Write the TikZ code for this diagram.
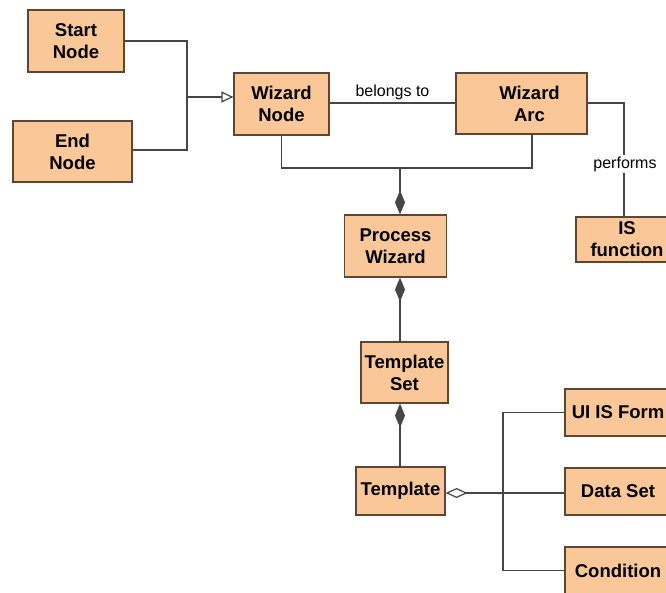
\documentclass[tikz,border=0pt]{standalone}
\usepackage{fontspec}
\setmainfont{Liberation Sans}
\usetikzlibrary{arrows.meta,positioning}
\definecolor{boxfill}{RGB}{250,200,152}
\definecolor{boxline}{RGB}{95,70,50}
\definecolor{wire}{RGB}{70,70,70}
\begin{document}
\begin{tikzpicture}[x=1pt,y=-1pt,
  cls/.style={draw=boxline, line width=1.2pt, fill=boxfill, inner sep=0pt,
    align=center, font=\bfseries\fontsize{18.5}{22}\selectfont},
  wirestyle/.style={draw=wire, line width=1.2pt},
  lbl/.style={font=\fontsize{16}{19}\selectfont, inner sep=1pt, fill=white},
  comp/.style={{Diamond[length=24pt,width=10pt,fill=wire]}-},
  aggr/.style={{Diamond[open,length=22pt,width=10pt,fill=white]}-},
  gen/.style={-{Triangle[open,length=12pt,width=11pt,fill=white]}}]
  \fill[white] (0,0) rectangle (666,592);
  \clip (0,0) rectangle (666,592);

  % class boxes (centre, width, height in px)
  \node[cls, minimum width=96, minimum height=62]  (sn)  at (76,41)    {Start\\Node};
  \node[cls, minimum width=119, minimum height=61] (en)  at (72.5,151.5) {End\\Node};
  \node[cls, minimum width=95, minimum height=62]  (wn)  at (281.5,104) {Wizard\\Node};
  \node[cls, minimum width=131, minimum height=61] (wa)  at (521.5,103.5) {\hspace*{16pt}Wizard\\\hspace*{16pt}Arc};
  \node[cls, minimum width=102, minimum height=45] (isf) at (627,239.5) {IS\\function};
  \node[cls, minimum width=102, minimum height=62] (pw)  at (395.5,246)  {Process\\Wizard};
  \node[cls, minimum width=87, minimum height=61]  (ts)  at (404.5,372.5) {Template\\Set};
  \node[cls, minimum width=89, minimum height=48]  (tp)  at (400.5,491)  {Template};
  \node[cls, minimum width=106, minimum height=47] (ui)  at (618,412.5)  {UI IS Form};
  \node[cls, minimum width=106, minimum height=47] (ds)  at (618,491.5)  {Data Set};
  \node[cls, minimum width=106, minimum height=47] (cd)  at (618,570.5)  {Condition};

  % junction points of the connector trees
  \coordinate (j0) at (187,97);
  \coordinate (j1) at (400,168);
  \coordinate (j2) at (503,491);

  % generalisation: Start Node, End Node -> Wizard Node
  \draw[wirestyle] (sn.east) -| (j0);
  \draw[wirestyle] (en.east |- 0,150) -| (j0);
  \draw[wirestyle, gen] (j0) -- (wn.west |- j0);

  % association Wizard Node -- Wizard Arc
  \draw[wirestyle] (wn.east |- 0,103) -- node[lbl, above=2pt, fill=none] {belongs to} (wa.west |- 0,103);

  % association Wizard Arc -- IS function
  \node[lbl] (perf) at (625,164) {performs};
  \draw[wirestyle] (wa.east |- 0,103) -| (perf.north -| 624,0);
  \draw[wirestyle] (perf.south -| 624,0) -- (isf.north -| 624,0);

  % composition: Wizard Node, Wizard Arc in Process Wizard
  \draw[wirestyle] (wn.south) |- (j1) -| ([xshift=10.5pt]wa.south);
  \draw[wirestyle, comp] ([xshift=4.5pt]pw.north) -- (j1);

  % composition chain Process Wizard -> Template Set -> Template
  \draw[wirestyle, comp] (pw.south -| 400,0) -- (ts.north -| 400,0);
  \draw[wirestyle, comp] (ts.south -| 400,0) -- (tp.north -| 400,0);

  % aggregation of form, data set and condition in Template
  \draw[wirestyle, aggr] (tp.east |- 0,493) -- (ds.west |- 0,493);
  \draw[wirestyle] (ui.west) -| (j2) |- (cd.west);
\end{tikzpicture}
\end{document}
